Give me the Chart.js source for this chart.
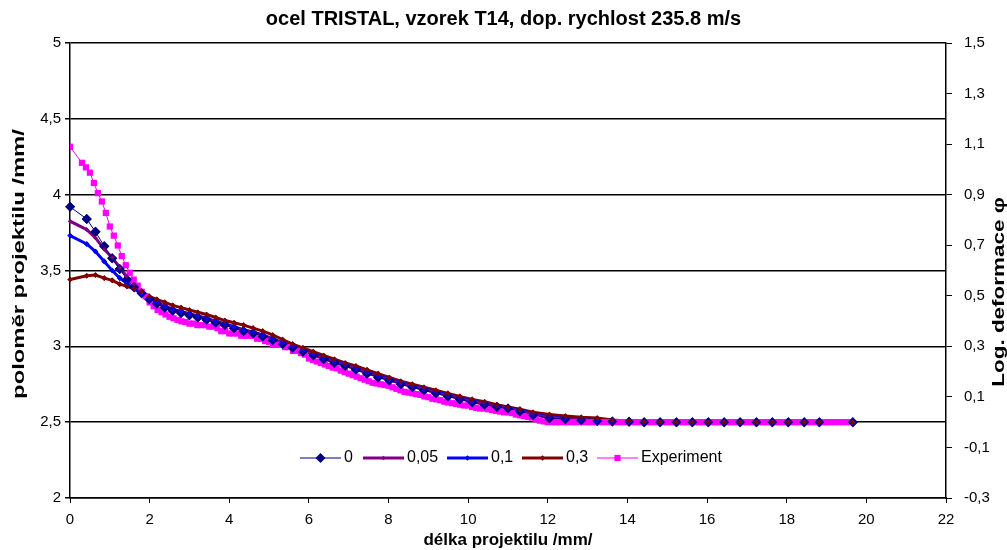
<!DOCTYPE html>
<html lang="cs">
<head>
    <meta charset="UTF-8">
    <title>ocel TRISTAL, vzorek T14</title>
    <script src="https://cdn.jsdelivr.net/npm/chart.js"></script>
    <style>
        body {
            margin: 0;
            background: #fff;
        }
        #chart-container {
            position: relative;
            width: 1007px;
            height: 550px;
        }
    </style>
</head>
<body>
    <div id="chart-container">
        <canvas id="profileChart"></canvas>
    </div>

    <script>
        // node positions along the simulated projectile /mm/
        const xSim = [
            0.00, 0.42, 0.64, 0.86, 1.06, 1.25, 1.43, 1.61, 1.80, 1.99,
            2.18, 2.38, 2.58, 2.79, 3.00, 3.21, 3.43, 3.66, 3.89, 4.12,
            4.36, 4.60, 4.84, 5.09, 5.34, 5.59, 5.85, 6.11, 6.37, 6.64,
            6.91, 7.18, 7.46, 7.74, 8.02, 8.31, 8.60, 8.89, 9.19, 9.49,
            9.79, 10.10, 10.41, 10.72, 11.00, 11.30, 11.63, 12.04, 12.44, 12.84,
            13.24, 13.62, 14.04, 14.42, 14.82, 15.23, 15.63, 16.03, 16.43, 16.83,
            17.24, 17.64, 18.04, 18.44, 18.82, 19.66
        ];

        // simulated radius /mm/ for friction coefficient 0
        const rFric0 = [
            3.92, 3.84, 3.755, 3.66, 3.58, 3.51, 3.44, 3.39, 3.35, 3.31,
            3.28, 3.255, 3.235, 3.22, 3.205, 3.19, 3.175, 3.155, 3.14, 3.12,
            3.10, 3.085, 3.065, 3.04, 3.015, 2.99, 2.965, 2.94, 2.915, 2.89,
            2.87, 2.845, 2.82, 2.795, 2.775, 2.75, 2.73, 2.71, 2.69, 2.67,
            2.65, 2.63, 2.615, 2.60, 2.59, 2.57, 2.545, 2.525, 2.52, 2.512,
            2.508, 2.505, 2.502, 2.5, 2.5, 2.5, 2.5, 2.5, 2.5, 2.5,
            2.5, 2.5, 2.5, 2.5, 2.5, 2.5
        ];

        // friction 0,05
        const rFric005 = [
            3.825, 3.77, 3.715, 3.64, 3.585, 3.52, 3.46, 3.41, 3.36, 3.315,
            3.285, 3.26, 3.24, 3.225, 3.21, 3.195, 3.18, 3.16, 3.145, 3.125,
            3.105, 3.09, 3.07, 3.045, 3.02, 2.995, 2.97, 2.945, 2.92, 2.895,
            2.875, 2.85, 2.825, 2.80, 2.78, 2.755, 2.735, 2.715, 2.695, 2.675,
            2.655, 2.635, 2.62, 2.605, 2.59, 2.575, 2.55, 2.53, 2.522, 2.514,
            2.51, 2.506, 2.503, 2.5, 2.5, 2.5, 2.5, 2.5, 2.5, 2.5,
            2.5, 2.5, 2.5, 2.5, 2.5, 2.5
        ];

        // friction 0,1
        const rFric01 = [
            3.73, 3.675, 3.625, 3.56, 3.50, 3.45, 3.415, 3.38, 3.345, 3.315,
            3.29, 3.265, 3.245, 3.23, 3.215, 3.20, 3.185, 3.165, 3.15, 3.13,
            3.11, 3.095, 3.075, 3.05, 3.025, 3.0, 2.975, 2.95, 2.925, 2.90,
            2.88, 2.855, 2.83, 2.805, 2.785, 2.76, 2.74, 2.72, 2.70, 2.68,
            2.66, 2.64, 2.625, 2.61, 2.595, 2.58, 2.555, 2.535, 2.525, 2.516,
            2.511, 2.507, 2.503, 2.5, 2.5, 2.5, 2.5, 2.5, 2.5, 2.5,
            2.5, 2.5, 2.5, 2.5, 2.5, 2.5
        ];

        // friction 0,3
        const rFric03 = [
            3.44, 3.465, 3.47, 3.45, 3.435, 3.41, 3.395, 3.38, 3.36, 3.33,
            3.31, 3.29, 3.27, 3.255, 3.24, 3.225, 3.21, 3.19, 3.17, 3.155,
            3.14, 3.12, 3.10, 3.075, 3.045, 3.015, 2.99, 2.965, 2.94, 2.915,
            2.89, 2.87, 2.845, 2.82, 2.795, 2.77, 2.75, 2.73, 2.71, 2.69,
            2.67, 2.65, 2.635, 2.615, 2.60, 2.585, 2.565, 2.55, 2.54, 2.532,
            2.527, 2.515, 2.508, 2.503, 2.5, 2.5, 2.5, 2.5, 2.5, 2.5,
            2.5, 2.5, 2.5, 2.5, 2.5, 2.5
        ];

        // measured profile of the sample
        const expX = [
            0.0, 0.3, 0.4, 0.5, 0.6, 0.7, 0.8, 0.9,
            1.0, 1.1, 1.2, 1.3, 1.4, 1.5, 1.6, 1.7, 1.8, 1.9,
            2.0, 2.1, 2.2, 2.3, 2.4, 2.5, 2.6, 2.7, 2.8, 2.9,
            3.0, 3.1, 3.2, 3.3, 3.4, 3.5, 3.6, 3.7, 3.8, 3.9,
            4.0, 4.1, 4.2, 4.3, 4.4, 4.5, 4.6, 4.7, 4.8, 4.9,
            5.0, 5.1, 5.2, 5.3, 5.4, 5.5, 5.6, 5.7, 5.8, 5.9,
            6.0, 6.1, 6.2, 6.3, 6.4, 6.5, 6.6, 6.7, 6.8, 6.9,
            7.0, 7.1, 7.2, 7.3, 7.4, 7.5, 7.6, 7.7, 7.8, 7.9,
            8.0, 8.1, 8.2, 8.3, 8.4, 8.5, 8.6, 8.7, 8.8, 8.9,
            9.0, 9.1, 9.2, 9.3, 9.4, 9.5, 9.6, 9.7, 9.8, 9.9,
            10.0, 10.1, 10.2, 10.3, 10.4, 10.5, 10.6, 10.7, 10.8, 10.9,
            11.0, 11.1, 11.2, 11.3, 11.4, 11.5, 11.6, 11.7, 11.8, 11.9,
            12.0, 12.1, 12.2, 12.3, 12.4, 12.5, 12.6, 12.7, 12.8, 12.9,
            13.0, 13.1, 13.2, 13.3, 13.4, 13.5, 13.6, 13.7, 13.8, 13.9,
            14.0, 14.1, 14.2, 14.3, 14.4, 14.5, 14.6, 14.7, 14.8, 14.9,
            15.0, 15.1, 15.2, 15.3, 15.4, 15.5, 15.6, 15.7, 15.8, 15.9,
            16.0, 16.1, 16.2, 16.3, 16.4, 16.5, 16.6, 16.7, 16.8, 16.9,
            17.0, 17.1, 17.2, 17.3, 17.4, 17.5, 17.6, 17.7, 17.8, 17.9,
            18.0, 18.1, 18.2, 18.3, 18.4, 18.5, 18.6, 18.7, 18.8, 18.9,
            19.0, 19.1, 19.2, 19.3, 19.4, 19.5, 19.6
        ];
        const expY = [
            4.316, 4.21, 4.18, 4.145, 4.077, 4.01, 3.955, 3.88,
            3.79, 3.73, 3.665, 3.595, 3.535, 3.485, 3.44, 3.40, 3.36, 3.33,
            3.29, 3.265, 3.24, 3.225, 3.21, 3.195, 3.185, 3.175, 3.165, 3.16,
            3.15, 3.15, 3.14, 3.14, 3.14, 3.13, 3.13, 3.12, 3.10, 3.10,
            3.085, 3.085, 3.085, 3.07, 3.07, 3.07, 3.07, 3.05, 3.05, 3.035,
            3.03, 3.01, 3.01, 3.01, 2.995, 2.995, 2.97, 2.97, 2.955, 2.945,
            2.92, 2.91, 2.90, 2.89, 2.88, 2.87, 2.86, 2.855, 2.84, 2.83,
            2.82, 2.81, 2.80, 2.79, 2.78, 2.77, 2.76, 2.755, 2.75, 2.745,
            2.74, 2.73, 2.72, 2.71, 2.70, 2.695, 2.69, 2.685, 2.68, 2.67,
            2.665, 2.655, 2.65, 2.645, 2.635, 2.63, 2.625, 2.62, 2.615, 2.61,
            2.61, 2.60, 2.595, 2.59, 2.59, 2.585, 2.58, 2.575, 2.57, 2.565,
            2.565, 2.56, 2.55, 2.545, 2.54, 2.535, 2.53, 2.52, 2.51, 2.505,
            2.5, 2.5, 2.5, 2.5, 2.5, 2.5, 2.5, 2.5, 2.5, 2.5,
            2.5, 2.5, 2.5, 2.5, 2.5, 2.5, 2.5, 2.5, 2.5, 2.5,
            2.5, 2.5, 2.5, 2.5, 2.5, 2.5, 2.5, 2.5, 2.5, 2.5,
            2.5, 2.5, 2.5, 2.5, 2.5, 2.5, 2.5, 2.5, 2.5, 2.5,
            2.5, 2.5, 2.5, 2.5, 2.5, 2.5, 2.5, 2.5, 2.5, 2.5,
            2.5, 2.5, 2.5, 2.5, 2.5, 2.5, 2.5, 2.5, 2.5, 2.5,
            2.5, 2.5, 2.5, 2.5, 2.5, 2.5, 2.5, 2.5, 2.5, 2.5,
            2.5, 2.5, 2.5, 2.5, 2.5, 2.5, 2.5
        ];

        const seriesNames = ['0', '0,05', '0,1', '0,3', 'Experiment'];
        const seriesColors = ['#000080', '#800080', '#0000FF', '#800000', '#FF00FF'];
        const seriesMarkers = ['rectRot', 'rectRot', 'rectRot', 'rectRot', 'rect'];
        const markerRadius = [5, 2.2, 2.8, 2.8, 4.4];
        const lineWidths = [1, 3, 3, 3, 1];

        const FONT = '"Liberation Sans", Arial, sans-serif';
        const commaFmt = (v, digits) => v.toFixed(digits).replace('.', ',');

        function toPoints(xs, ys) {
            return xs.map((x, i) => ({ x: x, y: ys[i] }));
        }

        const seriesData = [
            toPoints(xSim, rFric0),
            toPoints(xSim, rFric005),
            toPoints(xSim, rFric01),
            toPoints(xSim, rFric03),
            toPoints(expX, expY)
        ];

        const datasets = seriesData.map((pts, i) => ({
            label: seriesNames[i],
            data: pts,
            borderColor: seriesColors[i],
            backgroundColor: seriesColors[i],
            borderWidth: lineWidths[i],
            pointStyle: seriesMarkers[i],
            pointRadius: markerRadius[i],
            pointBorderWidth: 0,
            pointBackgroundColor: seriesColors[i],
            tension: 0,
            fill: false,
            yAxisID: 'y',
            // experiment line lies over the simulated lines
            order: i === 4 ? -1 : 0
        }));

        function drawMarker(ctx, style, x, y, r, color) {
            ctx.fillStyle = color;
            ctx.beginPath();
            if (style === 'rect') {
                const h = r * Math.SQRT1_2;
                ctx.rect(x - h, y - h, 2 * h, 2 * h);
            } else {
                ctx.moveTo(x - r, y);
                ctx.lineTo(x, y - r);
                ctx.lineTo(x + r, y);
                ctx.lineTo(x, y + r);
                ctx.closePath();
            }
            ctx.fill();
        }

        // vertical axis title, stretched along its length
        function drawVerticalTitle(ctx, text, x, y, stretch) {
            ctx.save();
            ctx.translate(x, y);
            ctx.rotate(-Math.PI / 2);
            ctx.scale(stretch, 1);
            ctx.font = 'bold 17px ' + FONT;
            ctx.fillStyle = '#000';
            ctx.textAlign = 'center';
            ctx.textBaseline = 'middle';
            ctx.fillText(text, 0, 0);
            ctx.restore();
        }

        // legend inside the plot area, axis titles, markers on top
        const overlay = {
            id: 'overlay',
            afterDatasetsDraw(chart) {
                const ctx = chart.ctx;
                ctx.save();
                for (let i = 0; i < 4; i++) {
                    chart.getDatasetMeta(i).data.forEach(pt => pt.draw(ctx, chart.chartArea));
                }
                ctx.restore();
            },
            afterDraw(chart) {
                const ctx = chart.ctx;
                const itemX = [300, 363, 447, 522, 597];
                const ly = 458;
                ctx.save();
                ctx.font = '16px ' + FONT;
                ctx.textBaseline = 'middle';
                ctx.textAlign = 'left';
                seriesNames.forEach((name, i) => {
                    ctx.strokeStyle = seriesColors[i];
                    ctx.lineWidth = lineWidths[i];
                    ctx.beginPath();
                    ctx.moveTo(itemX[i], ly);
                    ctx.lineTo(itemX[i] + 41, ly);
                    ctx.stroke();
                    drawMarker(ctx, seriesMarkers[i], itemX[i] + 20.5, ly, markerRadius[i], seriesColors[i]);
                    ctx.fillStyle = '#000';
                    ctx.fillText(name, itemX[i] + 44, ly);
                });
                ctx.restore();

                drawVerticalTitle(ctx, 'poloměr projektilu /mm/', 19, 264, 1.4);
                drawVerticalTitle(ctx, 'Log. deformace φ', 999, 292, 1.32);
            }
        };

        const ctx = document.getElementById('profileChart').getContext('2d');
        new Chart(ctx, {
            type: 'line',
            data: { datasets },
            plugins: [overlay],
            options: {
                responsive: true,
                maintainAspectRatio: false,
                animation: false,
                layout: { padding: 0 },
                plugins: {
                    legend: { display: false },
                    tooltip: { enabled: false },
                    title: {
                        display: true,
                        text: 'ocel TRISTAL, vzorek T14, dop. rychlost 235.8 m/s',
                        color: '#000',
                        font: { family: FONT, size: 20, weight: 'bold', lineHeight: 1.2 },
                        padding: { top: 7, bottom: 12 }
                    }
                },
                scales: {
                    x: {
                        type: 'linear',
                        min: 0,
                        max: 22,
                        ticks: {
                            stepSize: 2,
                            color: '#000',
                            padding: 8,
                            maxRotation: 0,
                            font: { family: FONT, size: 15 }
                        },
                        grid: { drawOnChartArea: false, color: '#000', tickLength: 5 },
                        border: { color: '#000', width: 1.5 },
                        title: {
                            display: true,
                            text: 'délka projektilu /mm/',
                            color: '#000',
                            font: { family: FONT, size: 17, weight: 'bold' },
                            padding: { top: 0, bottom: -1 }
                        },
                        afterFit: s => { s.height = 52; }
                    },
                    y: {
                        position: 'left',
                        min: 2,
                        max: 5,
                        ticks: {
                            stepSize: 0.5,
                            color: '#000',
                            padding: 4,
                            font: { family: FONT, size: 15 },
                            callback: v => String(v).replace('.', ',')
                        },
                        grid: { color: '#000', lineWidth: 1.5, tickLength: 5 },
                        border: { color: '#000', width: 1.5 },
                        afterFit: s => { s.width = 70; }
                    },
                    y2: {
                        position: 'right',
                        min: -0.3,
                        max: 1.5,
                        ticks: {
                            stepSize: 0.2,
                            color: '#000',
                            padding: 12,
                            font: { family: FONT, size: 15 },
                            callback: v => commaFmt(v, 1)
                        },
                        grid: { drawOnChartArea: false, color: '#000', tickLength: 6 },
                        border: { color: '#000', width: 1.5 },
                        afterFit: s => { s.width = 61; }
                    }
                }
            }
        });
    </script>
</body>
</html>
